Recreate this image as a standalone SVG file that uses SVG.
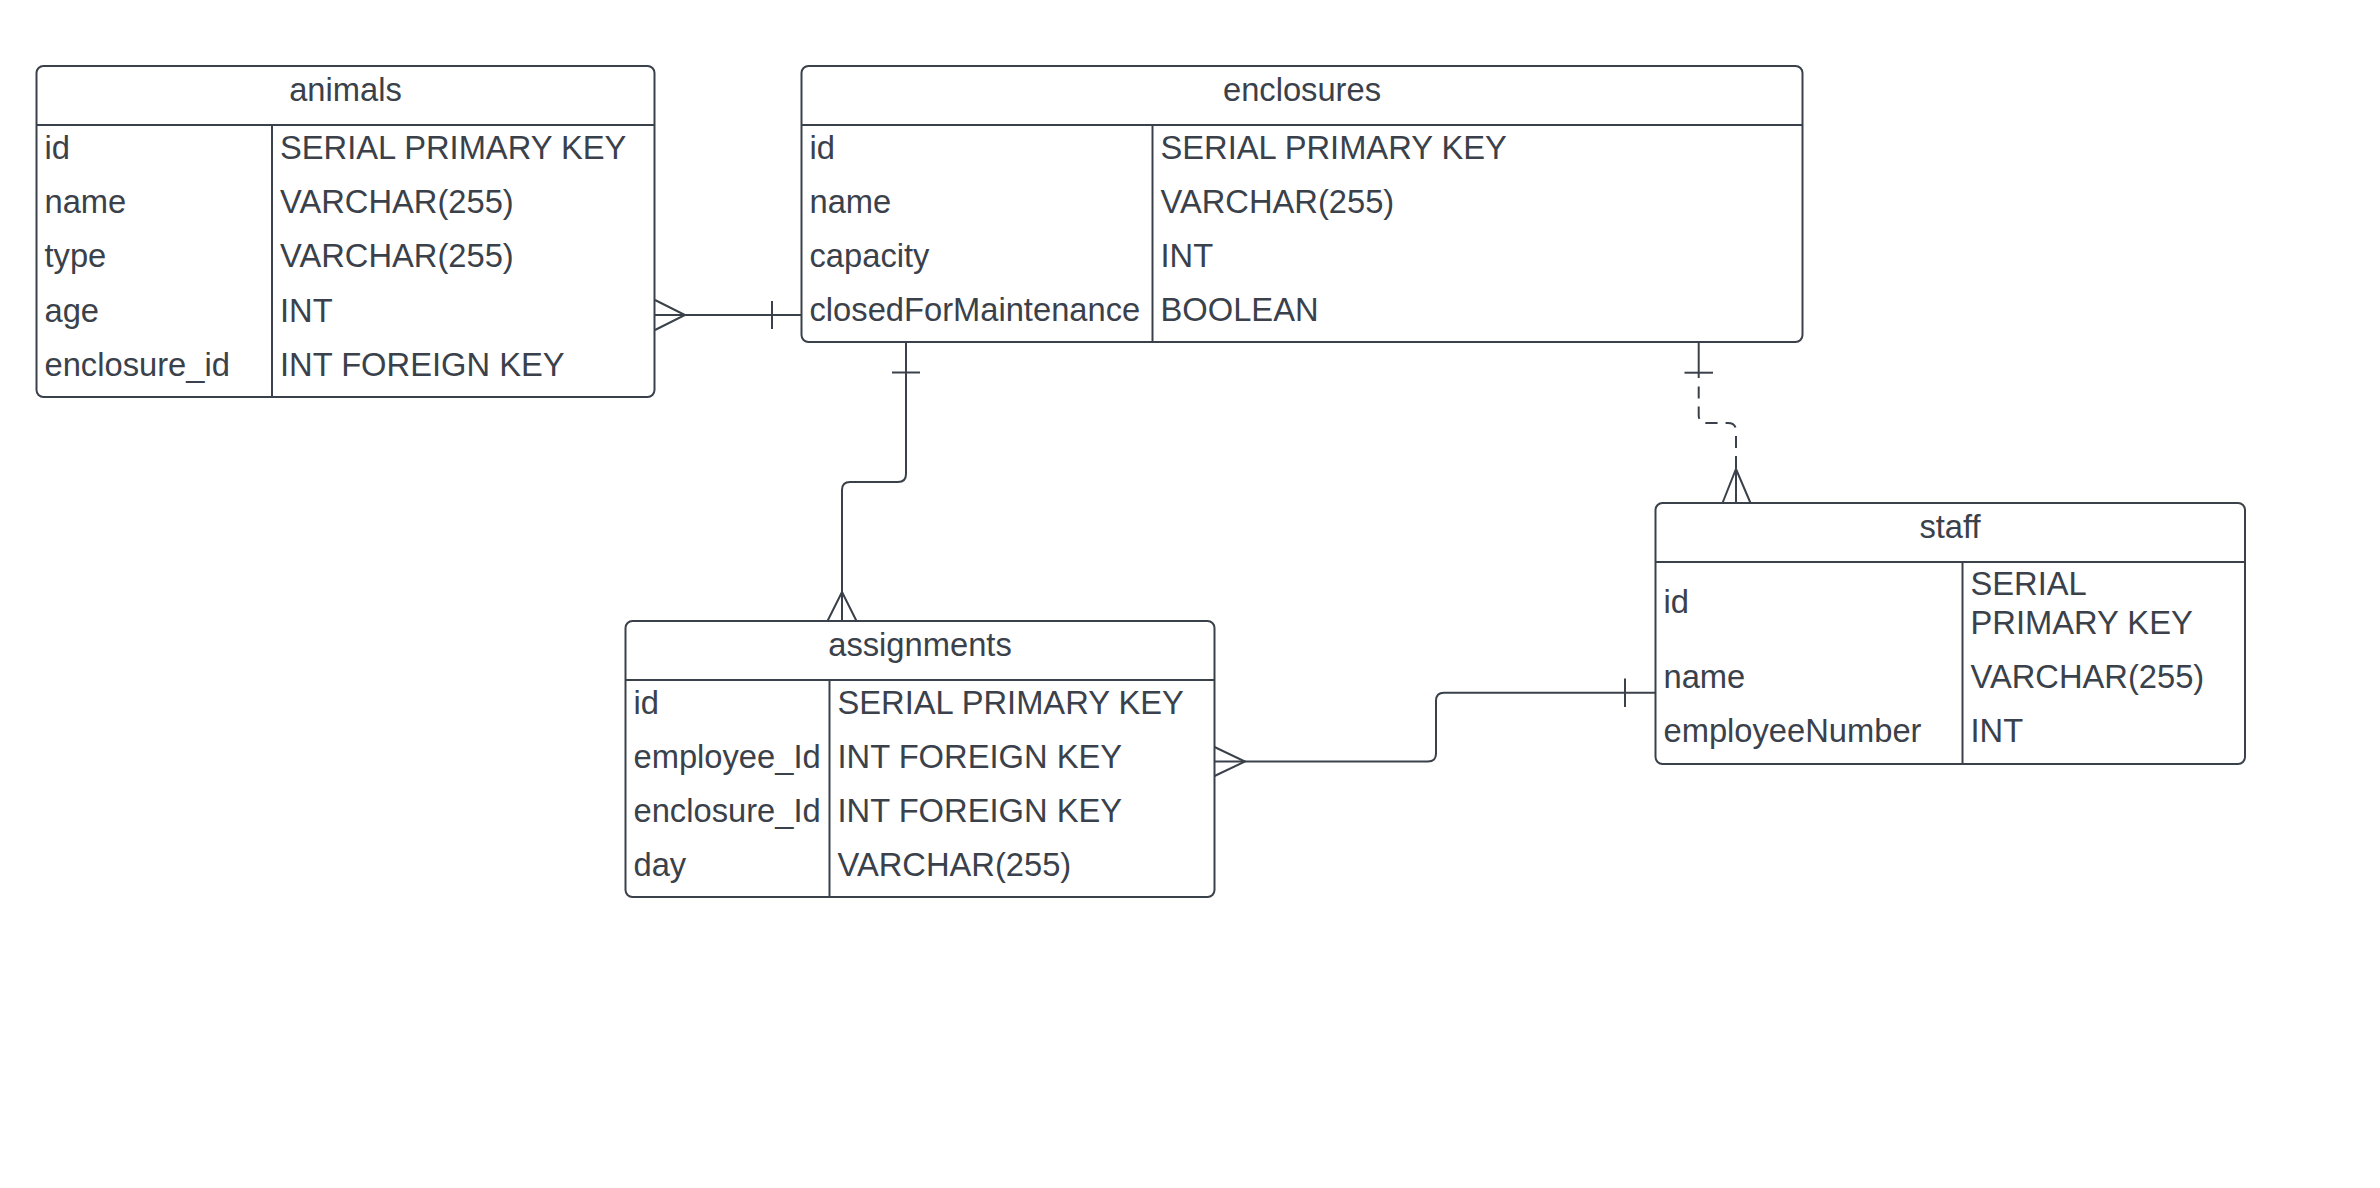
<svg xmlns="http://www.w3.org/2000/svg" width="2380" height="1188" viewBox="0 0 2380 1188">
<style>
.box{fill:#ffffff;stroke:#3a414a;stroke-width:2}
.ln{stroke:#3a414a;stroke-width:2;fill:none}
.t{font-family:"Liberation Sans",Arial,sans-serif;font-size:32.7px;fill:#3a414a}
.h{text-anchor:middle}
.c{stroke:#3a414a;stroke-width:2;fill:none}
.d{stroke-dasharray:12 8}
</style>
<rect width="2380" height="1188" fill="#ffffff"/>
<g id="animals">
<rect class="box" x="36.5" y="66" width="618" height="331" rx="7"/>
<line class="ln" x1="36.5" y1="125" x2="654.5" y2="125"/>
<line class="ln" x1="272" y1="125" x2="272" y2="397"/>
<text class="t h" x="345.5" y="101">animals</text>
<text class="t" x="44.5" y="158.6">id</text>
<text class="t" x="280" y="158.6">SERIAL PRIMARY KEY</text>
<text class="t" x="44.5" y="213">name</text>
<text class="t" x="280" y="213">VARCHAR(255)</text>
<text class="t" x="44.5" y="267.4">type</text>
<text class="t" x="280" y="267.4">VARCHAR(255)</text>
<text class="t" x="44.5" y="321.8">age</text>
<text class="t" x="280" y="321.8">INT</text>
<text class="t" x="44.5" y="376.2">enclosure_id</text>
<text class="t" x="280" y="376.2">INT FOREIGN KEY</text>
</g>
<g id="enclosures">
<rect class="box" x="801.5" y="66" width="1001" height="276" rx="7"/>
<line class="ln" x1="801.5" y1="125" x2="1802.5" y2="125"/>
<line class="ln" x1="1152.5" y1="125" x2="1152.5" y2="342"/>
<text class="t h" x="1302" y="101">enclosures</text>
<text class="t" x="809.5" y="158.6">id</text>
<text class="t" x="1160.5" y="158.6">SERIAL PRIMARY KEY</text>
<text class="t" x="809.5" y="212.9">name</text>
<text class="t" x="1160.5" y="212.9">VARCHAR(255)</text>
<text class="t" x="809.5" y="267.1">capacity</text>
<text class="t" x="1160.5" y="267.1">INT</text>
<text class="t" x="809.5" y="321.4">closedForMaintenance</text>
<text class="t" x="1160.5" y="321.4">BOOLEAN</text>
</g>
<g id="assignments">
<rect class="box" x="625.5" y="621" width="589" height="276" rx="7"/>
<line class="ln" x1="625.5" y1="680" x2="1214.5" y2="680"/>
<line class="ln" x1="829.5" y1="680" x2="829.5" y2="897"/>
<text class="t h" x="920" y="656">assignments</text>
<text class="t" x="633.5" y="713.6">id</text>
<text class="t" x="837.5" y="713.6">SERIAL PRIMARY KEY</text>
<text class="t" x="633.5" y="767.9">employee_Id</text>
<text class="t" x="837.5" y="767.9">INT FOREIGN KEY</text>
<text class="t" x="633.5" y="822.1">enclosure_Id</text>
<text class="t" x="837.5" y="822.1">INT FOREIGN KEY</text>
<text class="t" x="633.5" y="876.4">day</text>
<text class="t" x="837.5" y="876.4">VARCHAR(255)</text>
</g>
<g id="staff">
<rect class="box" x="1655.5" y="503" width="589.5" height="261" rx="7"/>
<line class="ln" x1="1655.5" y1="562" x2="2245" y2="562"/>
<line class="ln" x1="1962.5" y1="562" x2="1962.5" y2="764"/>
<text class="t h" x="1950" y="538">staff</text>
<text class="t" x="1663.5" y="613.3">id</text>
<text class="t" x="1970.5" y="595">SERIAL</text>
<text class="t" x="1970.5" y="634">PRIMARY KEY</text>
<text class="t" x="1663.5" y="688.3">name</text>
<text class="t" x="1970.5" y="688.3">VARCHAR(255)</text>
<text class="t" x="1663.5" y="741.7">employeeNumber</text>
<text class="t" x="1970.5" y="741.7">INT</text>
</g>
<g id="connectors">
<g id="animals-enclosures">
<path class="c" d="M655,315 H801.5"/>
<path class="c" d="M655,300 L685,315 L655,330"/>
<path class="c" d="M772,301 V329"/>
</g>
<g id="enclosures-assignments">
<path class="c" d="M906,342 V474 Q906,482 898,482 H850 Q842,482 842,490 V621"/>
<path class="c" d="M892,372.5 H920"/>
<path class="c" d="M827.5,621 L842,592 L856.5,621"/>
</g>
<g id="enclosures-staff">
<path class="c" d="M1698.7,342 V378"/>
<path class="c d" d="M1698.7,386.5 V415 Q1698.7,423 1706.7,423 H1728 Q1736,423 1736,431 V503"/>
<path class="c" d="M1684.5,372.7 H1713"/>
<path class="c" d="M1722.5,503 L1736,469 L1750.5,503"/>
<path class="c" d="M1736,469 V503"/>
</g>
<g id="assignments-staff">
<path class="c" d="M1214.5,761.5 H1428 Q1436,761.5 1436,753.5 V700.7 Q1436,692.7 1444,692.7 H1655.5"/>
<path class="c" d="M1625,678.5 V707"/>
<path class="c" d="M1214.5,747 L1245,761.5 L1214.5,776"/>
</g>
</g>
</svg>
